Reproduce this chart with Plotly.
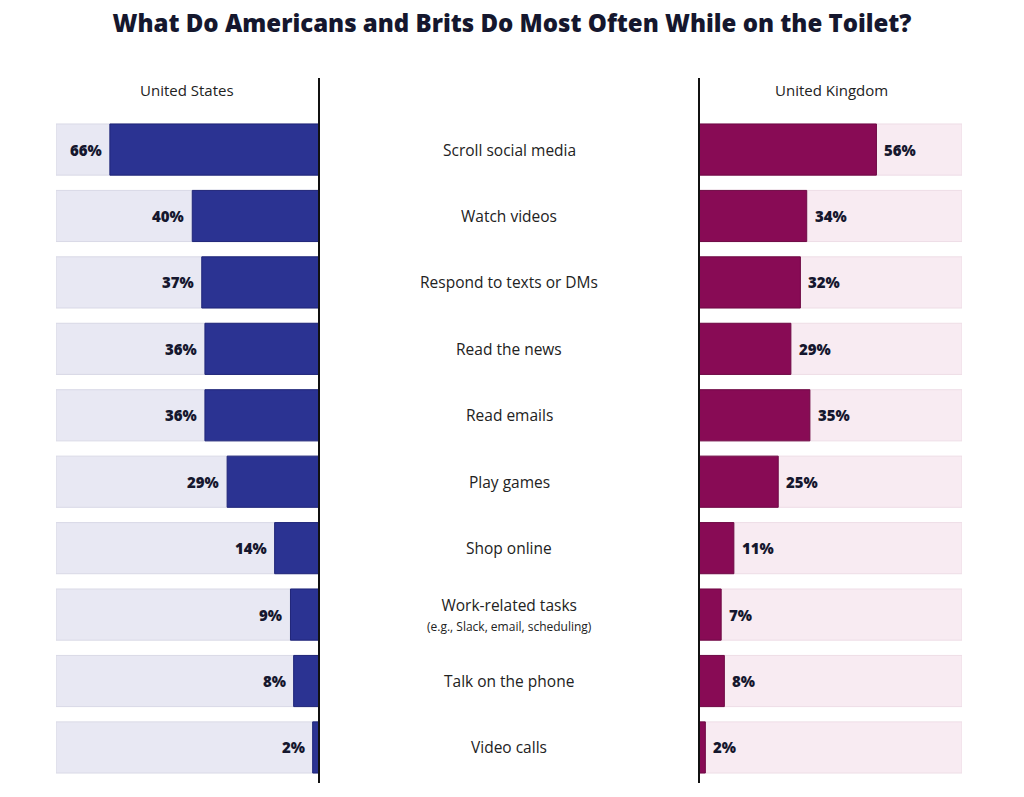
import plotly.graph_objects as go

activities = ["Scroll social media", "Watch videos", "Respond to texts or DMs",
              "Read the news", "Read emails", "Play games", "Shop online",
              "Work-related tasks<br><span style='font-size:12px'>(e.g., Slack, email, scheduling)</span>",
              "Talk on the phone", "Video calls"]
us_values = [66, 40, 37, 36, 36, 29, 14, 9, 8, 2]
uk_values = [56, 34, 32, 29, 35, 25, 11, 7, 8, 2]

rows = list(range(len(activities)))
xmax = 83

us_blue = "#2b3392"
us_bg = "#e8e8f3"
uk_red = "#880b55"
uk_bg = "#f8ebf2"
ink = "#15172e"

fig = go.Figure()

# background tracks
fig.add_trace(go.Bar(y=rows, x=[xmax] * len(rows), orientation="h", xaxis="x", yaxis="y",
                     marker=dict(color=us_bg, line=dict(color="#d9d9e6", width=1)),
                     hoverinfo="skip", showlegend=False))
fig.add_trace(go.Bar(y=rows, x=[xmax] * len(rows), orientation="h", xaxis="x2", yaxis="y",
                     marker=dict(color=uk_bg, line=dict(color="#eedde6", width=1)),
                     hoverinfo="skip", showlegend=False))

fig.add_trace(go.Bar(y=rows, x=us_values, orientation="h", xaxis="x", yaxis="y",
                     marker=dict(color=us_blue, line=dict(color="#1f2578", width=1)),
                     showlegend=False))
fig.add_trace(go.Bar(y=rows, x=uk_values, orientation="h", xaxis="x2", yaxis="y",
                     marker=dict(color=uk_red, line=dict(color="#6e0944", width=1)),
                     showlegend=False))

W, H = 1024, 797
val_font = dict(family="Open Sans", size=15, color=ink, weight=800)
annotations = []
for r, v in zip(rows, us_values):
    annotations.append(dict(x=v, xref="x", y=r, yref="y", text=f"{v}%", showarrow=False,
                            xanchor="right", xshift=-6, font=val_font))
for r, v in zip(rows, uk_values):
    annotations.append(dict(x=v, xref="x2", y=r, yref="y", text=f"{v}%", showarrow=False,
                            xanchor="left", xshift=6, font=val_font))
for r, a in zip(rows, activities):
    annotations.append(dict(x=509 / W, xref="paper", y=r, yref="y", text=a, showarrow=False,
                            font=dict(family="Open Sans", size=15.5, color="#222222"),
                            xanchor="center", yanchor="middle"))
for xp, name in [(187, "United States"), (831, "United Kingdom")]:
    annotations.append(dict(x=xp / W, xref="paper", y=-0.89, yref="y", text=name, showarrow=False,
                            font=dict(family="Open Sans", size=15, color="#222222"),
                            xanchor="center", yanchor="middle"))

fig.update_layout(
    width=W, height=H,
    margin=dict(l=0, r=0, t=78, b=14),
    paper_bgcolor="white", plot_bgcolor="white",
    barmode="overlay", bargap=0.23,
    title=dict(text="What Do Americans and Brits Do Most Often While on the Toilet?",
               x=0.5, xanchor="center", y=1 - 24 / H, yanchor="middle",
               font=dict(family="Open Sans", size=24, color=ink, weight=800)),
    xaxis=dict(domain=[56 / W, 319 / W], range=[xmax, 0], showgrid=False, zeroline=False,
               showticklabels=False, showline=False, fixedrange=True),
    xaxis2=dict(domain=[699 / W, 962 / W], range=[0, xmax], showgrid=False, zeroline=False,
                showticklabels=False, showline=False, fixedrange=True),
    yaxis=dict(range=[9.535, -1.077], showgrid=False, zeroline=False, showticklabels=False,
               fixedrange=True),
    annotations=annotations,
    shapes=[
        dict(type="line", xref="paper", yref="paper", x0=319 / W, x1=319 / W, y0=0, y1=1,
             line=dict(color="#111111", width=2)),
        dict(type="line", xref="paper", yref="paper", x0=699 / W, x1=699 / W, y0=0, y1=1,
             line=dict(color="#111111", width=2)),
    ],
)

fig.write_html("out.html", config={"displayModeBar": False},
               post_script="document.body.style.margin='0';")
